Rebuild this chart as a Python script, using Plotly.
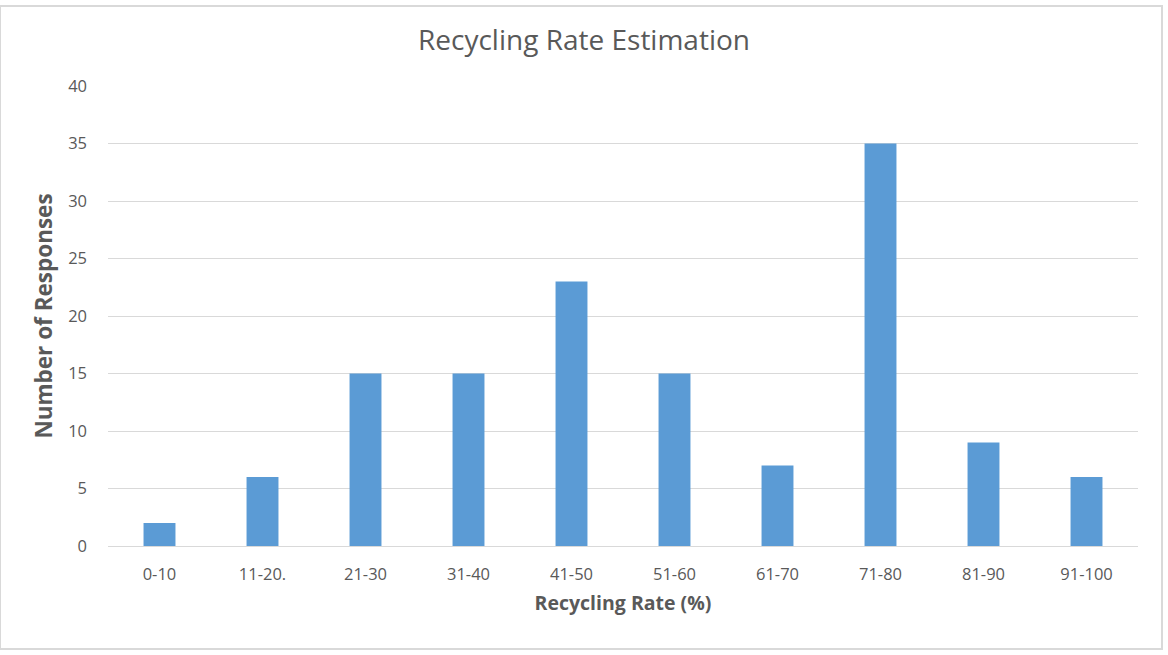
import plotly.graph_objects as go

categories = ["0-10", "11-20.", "21-30", "31-40", "41-50", "51-60", "61-70", "71-80", "81-90", "91-100"]
responses = [2, 6, 15, 15, 23, 15, 7, 35, 9, 6]
y_ticks = [0, 5, 10, 15, 20, 25, 30, 35, 40]

FONT = "Open Sans"
TICK_COLOR = "#595959"
GRID_COLOR = "#d9d9d9"

fig = go.Figure(
    go.Bar(
        x=categories,
        y=responses,
        marker=dict(color="#5B9BD5", line=dict(width=0)),
        hoverinfo="x+y",
    )
)

fig.update_layout(
    width=1168,
    height=655,
    margin=dict(l=108, r=30, t=86, b=109),
    paper_bgcolor="white",
    plot_bgcolor="white",
    bargap=0.69,
    showlegend=False,
    font=dict(family=FONT, color=TICK_COLOR, size=14),
    title=dict(
        text="Recycling Rate Estimation",
        x=0.5,
        xanchor="center",
        y=1 - 40 / 655,
        yanchor="middle",
        font=dict(family=FONT, size=28, color=TICK_COLOR),
    ),
    xaxis=dict(
        title=dict(text="Recycling Rate (%)", font=dict(family=FONT, size=19.5, color=TICK_COLOR, weight="bold"), standoff=12),
        showgrid=False,
        showline=True,
        linecolor=GRID_COLOR,
        linewidth=1,
        ticks="",
        ticklabelstandoff=13,
        tickfont=dict(family=FONT, size=16.5, color=TICK_COLOR),
    ),
    yaxis=dict(
        title=dict(text="Number of Responses", font=dict(family=FONT, size=22.5, color=TICK_COLOR, weight="bold"), standoff=9),
        range=[0, 40],
        tickvals=y_ticks,
        showgrid=True,
        gridcolor=GRID_COLOR,
        gridwidth=1,
        zeroline=False,
        showline=False,
        ticks="",
        ticklabelstandoff=20,
        tickfont=dict(family=FONT, size=16.5, color=TICK_COLOR),
    ),
    shapes=[
        dict(
            type="rect",
            xref="paper", yref="paper",
            x0=-108 / 1030, x1=1 + 24 / 1030,
            y0=-103 / 460, y1=1 + 80 / 460,
            line=dict(color=GRID_COLOR, width=2),
            fillcolor="rgba(0,0,0,0)",
        )
    ],
)

fig.write_html("out.html")
